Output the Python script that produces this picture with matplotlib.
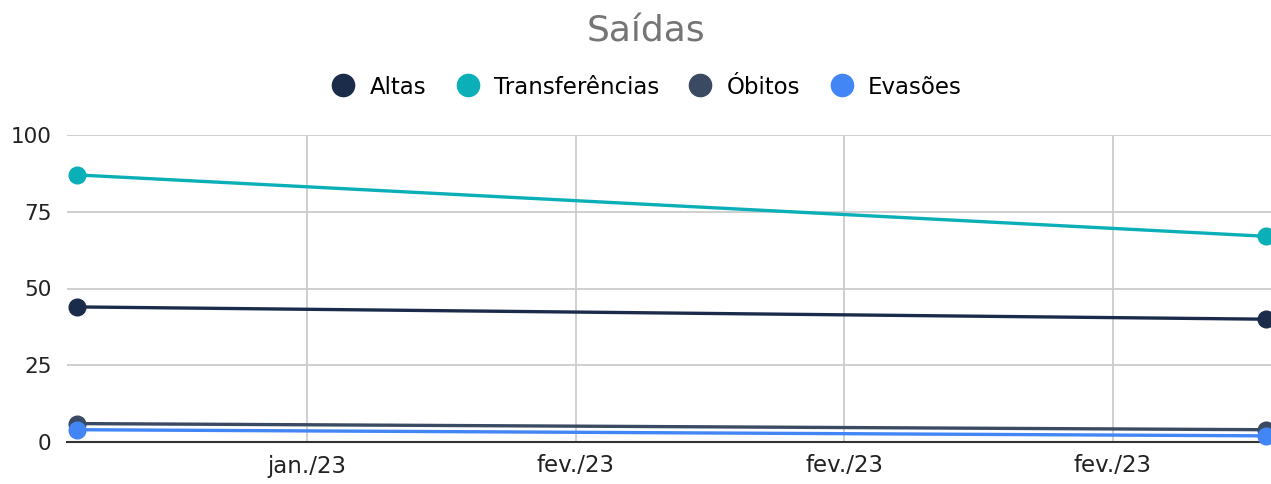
"""
Saídas por mês: altas, transferências, óbitos e evasões.
"""

import datetime as dt

import matplotlib
matplotlib.use("Agg")
import matplotlib.dates as mdates
import matplotlib.pyplot as plt
from matplotlib.lines import Line2D
from matplotlib.ticker import FuncFormatter

# data
dates = [dt.date(2023, 1, 23), dt.date(2023, 2, 23)]
altas = [44, 40]
transferencias = [87, 67]
obitos = [6, 4]
evasoes = [4, 2]

series = [
    ("Altas", altas, "#1b2c4b"),
    ("Transferências", transferencias, "#0bafb8"),
    ("Óbitos", obitos, "#3a4a62"),
    ("Evasões", evasoes, "#4285f4"),
]

meses = ["jan.", "fev.", "mar.", "abr.", "mai.", "jun.",
         "jul.", "ago.", "set.", "out.", "nov.", "dez."]


def fmt_date(x, pos=None):
    d = mdates.num2date(x)
    return f"{meses[d.month - 1]}/{d.strftime('%y')}"


fig = plt.figure(figsize=(12.71, 4.84), dpi=100)
ax = fig.add_axes([67 / 1271, 42 / 484, 1204 / 1271, 307 / 484])

for name, values, color in series:
    ax.plot(dates, values, "-", color=color, lw=2.4, marker="o",
            markersize=12, clip_on=False, zorder=3)

# axes limits and ticks
x0 = mdates.date2num(dates[0])
x1 = mdates.date2num(dates[1])
ax.set_xlim(x0 - 0.26, x1 + 0.13)
ax.set_ylim(0, 100)
ax.set_yticks([0, 25, 50, 75, 100])
ax.xaxis.set_major_locator(mdates.WeekdayLocator(byweekday=mdates.SU))
ax.xaxis.set_major_formatter(FuncFormatter(fmt_date))

ax.tick_params(axis="both", length=0, labelsize=16.5, colors="#222222")
ax.tick_params(axis="y", labelsize=15.5, pad=11)
ax.tick_params(axis="x", pad=9)

ax.grid(True, color="#cccccc", lw=1.3)
ax.set_axisbelow(True)
for side in ("top", "right", "left"):
    ax.spines[side].set_visible(False)
ax.spines["bottom"].set_color("#333333")
ax.spines["bottom"].set_linewidth(1.5)
ax.spines["bottom"].set_zorder(2)

# title and legend
fig.text(0.508, 1 - 31 / 484, "Saídas", ha="center", va="center",
         fontsize=26, color="#757575")
handles = [Line2D([], [], ls="none", marker="o", markersize=16, color=c)
           for _, _, c in series]
fig.legend(handles, [n for n, _, _ in series], loc="center", ncol=4,
           bbox_to_anchor=(0.508, 1 - 87 / 484), frameon=False,
           fontsize=16.5, handletextpad=0.55, columnspacing=1.2,
           handlelength=1.2)

fig.savefig("out.png", dpi=100)
